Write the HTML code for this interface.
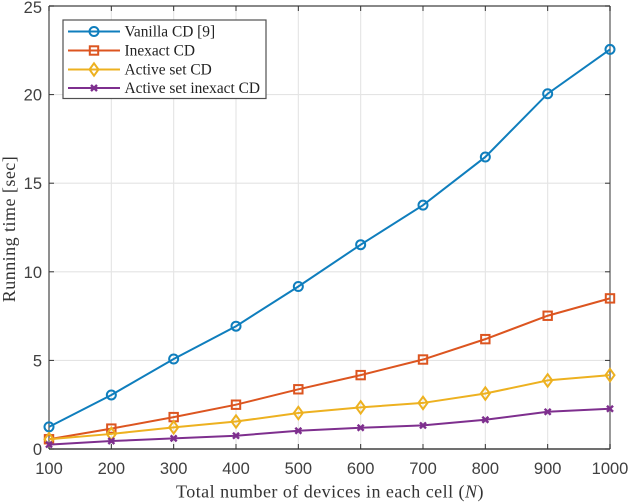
<!DOCTYPE html>
<html>
<head>
<meta charset="utf-8">
<style>
html,body{margin:0;padding:0;background:#fff;}
svg{display:block;}
.tick{font-family:"Liberation Sans",sans-serif;font-size:16.5px;fill:#404040;}
.title{font-family:"Liberation Serif",serif;font-size:18px;letter-spacing:.47px;fill:#333;}
.leg{font-family:"Liberation Serif",serif;font-size:15.4px;fill:#222;}
</style>
</head>
<body>
<svg id="chart" width="628" height="502" viewBox="0 0 628 502" xmlns="http://www.w3.org/2000/svg"></svg>
<script>
const categories = [100,200,300,400,500,600,700,800,900,1000];
const yTicks = [0,5,10,15,20,25];
const vanillaCD = [1.25,3.05,5.08,6.93,9.17,11.53,13.76,16.48,20.05,22.55];
const inexactCD = [0.55,1.15,1.8,2.5,3.37,4.17,5.05,6.2,7.52,8.5];
const activeSetCD = [0.55,0.85,1.22,1.55,2.03,2.35,2.6,3.13,3.87,4.17];
const activeSetInexactCD = [0.25,0.45,0.6,0.75,1.03,1.2,1.33,1.65,2.1,2.27];
const seriesNames = ['Vanilla CD [9]','Inexact CD','Active set CD','Active set inexact CD'];

const L=49, R=610, T=6, B=449;
const sx = v => L + (v-100)/900*(R-L);
const sy = v => B - v/25*(B-T);
const svg = document.getElementById('chart');
function mk(tag, attrs, parent){
  const e = document.createElementNS('http://www.w3.org/2000/svg', tag);
  for(const k in attrs) e.setAttribute(k, attrs[k]);
  (parent||svg).appendChild(e);
  return e;
}
function marker(g, kind, x, y, color){
  const st = {fill:'none',stroke:color,'stroke-width':2};
  if(kind==='circle') mk('circle',{cx:x,cy:y,r:4.5,...st},g);
  if(kind==='square') mk('rect',{x:x-4.2,y:y-4.2,width:8.4,height:8.4,...st},g);
  if(kind==='diamond') mk('path',{d:`M${x} ${y-6.2}L${x+4.5} ${y}L${x} ${y+6.2}L${x-4.5} ${y}Z`,...st},g);
  if(kind==='x') mk('path',{d:`M${x-3} ${y-3}L${x+3} ${y+3}M${x-3} ${y+3}L${x+3} ${y-3}`,...st,'stroke-width':2.4},g);
}

const grid = mk('g',{});


categories.forEach(c=>{
  mk('line',{x1:sx(c),x2:sx(c),y1:T,y2:B,stroke:'#e4e4e4','stroke-width':1.1},grid);
});
yTicks.forEach(t=>{
  mk('line',{x1:L,x2:R,y1:sy(t),y2:sy(t),stroke:'#e4e4e4','stroke-width':1.1},grid);
});

const axes = mk('g',{});


mk('line',{x1:L,x2:R,y1:T,y2:T,stroke:'#606060','stroke-width':1.4},axes);
mk('line',{x1:L,x2:R,y1:B,y2:B,stroke:'#404040','stroke-width':1.4},axes);
mk('line',{x1:L,x2:L,y1:T,y2:B,stroke:'#606060','stroke-width':1.4},axes);
mk('line',{x1:R,x2:R,y1:T,y2:B,stroke:'#808080','stroke-width':1.6},axes);
categories.forEach(c=>{
  mk('line',{x1:sx(c),x2:sx(c),y1:B,y2:B-5,stroke:'#333','stroke-width':1},axes);
  mk('line',{x1:sx(c),x2:sx(c),y1:T,y2:T+5,stroke:'#333','stroke-width':1},axes);
  const t = mk('text',{x:sx(c),y:474,'text-anchor':'middle',class:'tick'},axes);
  
  
  t.textContent = c;
});
yTicks.forEach(v=>{
  mk('line',{x1:L,x2:L+5,y1:sy(v),y2:sy(v),stroke:'#333','stroke-width':1},axes);
  mk('line',{x1:R,x2:R-5,y1:sy(v),y2:sy(v),stroke:'#333','stroke-width':1},axes);
  const t = mk('text',{x:42,y:Math.max(sy(v)+6,13),'text-anchor':'end',class:'tick'},axes);
  
  
  t.textContent = v;
});

const styles = [
  {color:'#0f7ebd',kind:'circle',vals:vanillaCD},
  {color:'#dc5520',kind:'square',vals:inexactCD},
  {color:'#edb120',kind:'diamond',vals:activeSetCD},
  {color:'#7e2f8e',kind:'x',vals:activeSetInexactCD}
];
styles.forEach((s,i)=>{
  const g = mk('g',{});
  
  
  mk('polyline',{points:s.vals.map((v,j)=>sx(categories[j])+','+sy(v)).join(' '),fill:'none',stroke:s.color,'stroke-width':2},g);
  s.vals.forEach((v,j)=>marker(g,s.kind,sx(categories[j]),sy(v),s.color));
});

const lg = mk('g',{});


mk('rect',{x:63,y:20,width:203,height:78.5,fill:'#fff',stroke:'#505050','stroke-width':1.2},lg);
const rowY = [31.5,50.5,69.5,88];
styles.forEach((s,i)=>{
  const e = mk('g',{},lg);
  
  
  mk('line',{x1:68,x2:120,y1:rowY[i],y2:rowY[i],stroke:s.color,'stroke-width':2},e);
  marker(e,s.kind,94,rowY[i],s.color);
  const t = mk('text',{x:124.5,y:rowY[i]+5,class:'leg'},e);
  t.textContent = seriesNames[i];
});

const xt = mk('text',{x:330,y:497.5,'text-anchor':'middle',class:'title'});


xt.innerHTML = 'Total number of devices in each cell (<tspan font-style="italic">N</tspan>)';
const yt = mk('text',{x:0,y:0,'text-anchor':'middle',class:'title',transform:'translate(15,229) rotate(-90)'});


yt.textContent = 'Running time [sec]';
</script>
</body>
</html>
